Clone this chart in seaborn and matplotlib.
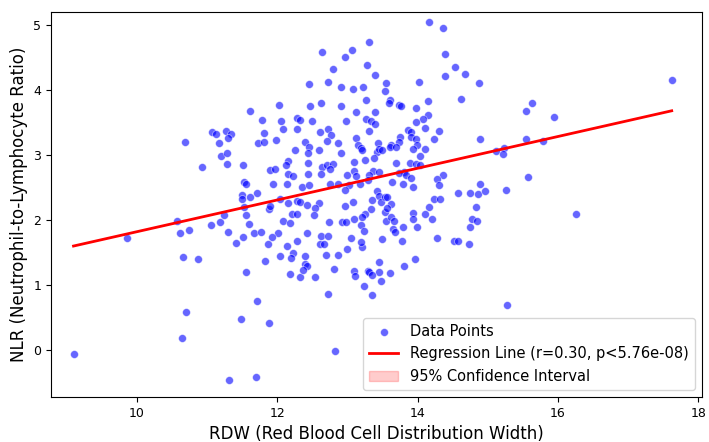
import matplotlib
matplotlib.use("Agg")
import matplotlib.pyplot as plt
import seaborn as sns
from matplotlib.patches import Patch

# RDW / NLR の読み取り値
rdw = [11.07, 11.13, 10.69, 11.17, 13.31, 12.64, 13.07, 12.96, 13.28, 12.80,
       13.39, 12.46, 12.72, 12.91, 13.08, 13.22, 13.55, 13.54, 13.26, 12.02,
       12.47, 12.63, 12.91, 11.62, 13.13, 13.40, 11.78, 12.06, 12.28, 12.33,
       12.50, 12.98, 13.26, 13.33, 13.39, 12.09, 12.28, 12.73, 12.61, 13.31,
       11.82, 12.77, 11.27, 11.35, 11.30, 11.98, 12.39, 12.71, 13.13, 11.73,
       11.81, 12.86, 13.15, 13.43,
       14.16, 14.36, 14.39, 14.53, 14.68, 14.39, 14.87, 14.02, 13.61, 13.59,
       13.73, 13.76, 14.15, 14.62, 13.98, 14.15, 14.08, 13.98, 14.10, 13.86,
       13.90, 14.30, 13.75, 13.90, 13.98, 14.24, 14.89, 15.55, 15.63, 15.54,
       15.78, 13.73, 13.62, 13.99, 17.62, 15.95,
       11.20, 10.93, 10.57, 10.62, 10.75, 11.06, 11.18, 9.86, 10.66, 10.88,
       12.45, 13.19, 13.42, 13.45, 13.49, 11.29, 11.29, 11.52, 12.26, 12.44,
       12.60, 12.91, 13.21, 13.38, 12.44, 12.16, 12.12, 12.64, 12.71, 12.80,
       12.75, 13.09, 13.25, 11.90, 11.97, 12.16, 12.22, 12.44, 12.62, 12.99,
       13.10, 13.12, 13.36, 13.31, 13.45, 11.53, 11.55, 11.94, 12.14, 12.35,
       12.45, 12.76, 12.86, 13.02, 13.18, 13.29, 12.96, 11.72, 11.50, 11.62,
       11.50, 12.04, 12.29, 12.15, 12.32, 12.42, 12.59, 13.08, 13.42, 13.45,
       13.35, 13.48, 11.24, 11.53, 11.89, 11.90, 12.54, 13.33, 12.96, 11.56,
       12.21, 12.29, 12.53, 13.25, 13.10, 13.21, 13.53, 12.08, 12.19, 12.74,
       12.92, 12.98, 13.19, 13.55, 11.60, 11.30, 11.51, 11.67, 11.77, 12.01,
       11.93, 12.42, 12.62, 12.73, 13.05, 13.24, 13.49, 11.41, 11.87, 12.14,
       12.28, 12.61, 12.67, 13.00, 13.21, 13.19, 12.22, 12.04, 12.39, 12.70,
       12.86, 11.83, 12.20, 12.40, 12.42, 12.81, 13.10, 11.56, 13.30, 13.45,
       13.45,
       13.61, 13.70, 13.94, 14.11, 14.03, 13.70, 13.89, 13.98, 14.04, 13.81,
       13.73, 13.83, 13.91, 14.36, 14.27, 13.63, 13.79, 13.94, 14.30, 14.89,
       14.57, 14.75, 14.86, 14.96, 15.26, 15.57, 15.12, 15.23, 15.22, 13.53,
       13.56, 13.62, 13.56, 14.23, 14.32, 14.17, 14.10, 13.94, 13.93, 14.20,
       14.83, 14.77, 14.85, 14.74, 13.62, 13.66, 13.79, 13.99, 13.65, 13.68,
       13.78, 14.27, 14.52, 14.57, 14.73, 13.97, 13.81, 13.61,
       16.26, 10.70, 10.65, 9.11,
       12.18, 12.33, 12.37, 12.54, 13.11, 13.31, 13.35, 13.48, 13.24, 13.35,
       12.73, 11.71, 11.48, 11.89, 12.83, 11.31, 11.70, 15.27]

nlr = [3.35, 3.32, 3.20, 3.18, 4.74, 4.58, 4.61, 4.50, 4.39, 4.33,
       4.23, 4.09, 4.12, 4.04, 4.02, 4.05, 4.10, 3.99, 3.85, 3.77,
       3.75, 3.80, 3.76, 3.67, 3.66, 3.66, 3.54, 3.53, 3.57, 3.54,
       3.52, 3.52, 3.56, 3.53, 3.47, 3.40, 3.40, 3.40, 3.35, 3.37,
       3.34, 3.30, 3.37, 3.32, 3.26, 3.23, 3.20, 3.22, 3.26, 3.18,
       3.20, 3.19, 3.16, 3.19,
       5.04, 4.96, 4.55, 4.35, 4.25, 4.22, 4.11, 4.12, 3.84, 3.80,
       3.77, 3.76, 3.83, 3.86, 3.72, 3.61, 3.55, 3.51, 3.42, 3.38,
       3.36, 3.37, 3.28, 3.27, 3.24, 3.24, 3.25, 3.24, 3.80, 3.67,
       3.21, 3.20, 3.15, 3.16, 4.16, 3.59,
       2.98, 2.82, 1.98, 1.80, 1.84, 1.92, 1.97, 1.72, 1.43, 1.40,
       3.12, 3.11, 3.04, 3.09, 3.08, 3.03, 2.86, 2.85, 3.07, 3.03,
       3.07, 3.03, 3.07, 2.96, 2.88, 2.91, 2.84, 2.82, 2.84, 2.86,
       2.78, 2.89, 2.92, 2.77, 2.78, 2.71, 2.67, 2.71, 2.71, 2.70,
       2.76, 2.68, 2.76, 2.69, 2.74, 2.58, 2.56, 2.56, 2.55, 2.51,
       2.54, 2.56, 2.56, 2.54, 2.56, 2.61, 2.46, 2.42, 2.39, 2.35,
       2.32, 2.33, 2.30, 2.26, 2.27, 2.23, 2.26, 2.28, 2.44, 2.37,
       2.31, 2.27, 2.08, 2.20, 2.17, 2.22, 2.19, 2.17, 2.22, 2.08,
       2.09, 2.09, 2.08, 2.09, 2.02, 2.04, 2.13, 1.98, 1.95, 1.97,
       1.97, 1.97, 1.93, 1.99, 1.94, 1.81, 1.74, 1.80, 1.82, 1.80,
       1.74, 1.80, 1.75, 1.75, 1.73, 1.83, 1.71, 1.65, 1.63, 1.60,
       1.68, 1.63, 1.63, 1.55, 1.59, 1.66, 1.49, 1.44, 1.44, 1.46,
       1.46, 1.37, 1.41, 1.32, 1.29, 1.25, 1.21, 1.20, 1.22, 1.20,
       1.36,
       3.12, 3.12, 3.09, 3.09, 2.98, 2.87, 2.88, 2.86, 2.85, 2.74,
       2.73, 2.69, 2.65, 2.69, 2.63, 2.59, 2.55, 2.51, 2.54, 2.56,
       2.41, 2.41, 2.40, 2.45, 2.46, 2.66, 3.06, 3.10, 3.01, 2.35,
       2.35, 2.24, 2.18, 2.32, 2.32, 2.20, 2.10, 2.11, 2.02, 2.02,
       2.20, 2.02, 1.99, 1.90, 2.04, 1.98, 1.89, 1.90, 1.86, 1.81,
       1.67, 1.72, 1.68, 1.68, 1.63, 1.40, 1.30, 1.18,
       2.10, 0.58, 0.18, -0.06,
       1.17, 1.13, 1.23, 1.12, 1.14, 1.20, 1.16, 1.07, 0.98, 0.84,
       0.86, 0.76, 0.48, 0.41, -0.02, -0.46, -0.42, 0.70]

# 回帰直線（図から読み取った端点）
line_x = [9.10, 17.62]
line_y = [1.60, 3.68]
line_label = 'Regression Line (r=0.30, p<5.76e-08)'

fig, ax = plt.subplots(figsize=(7.09, 4.42), dpi=100)

sns.scatterplot(x=rdw, y=nlr, color='blue', alpha=0.6, s=32,
                edgecolor='white', linewidth=0.5, label='Data Points', ax=ax)
sns.lineplot(x=line_x, y=line_y, color='red', linewidth=2, label=line_label, ax=ax)

ax.set_xlim(8.78, 18.05)
ax.set_ylim(-0.72, 5.2)
ax.set_xlabel('RDW (Red Blood Cell Distribution Width)', fontsize=12)
ax.set_ylabel('NLR (Neutrophil-to-Lymphocyte Ratio)', fontsize=12)
ax.tick_params(labelsize=9)

handles, labels = ax.get_legend_handles_labels()
handles.append(Patch(facecolor='red', alpha=0.2, edgecolor='red'))
labels.append('95% Confidence Interval')
ax.legend(handles, labels, loc='lower right', fontsize=10.5)

fig.subplots_adjust(left=0.072, right=0.99, top=0.973, bottom=0.102)
plt.savefig('out.png', dpi=100)
plt.close()
